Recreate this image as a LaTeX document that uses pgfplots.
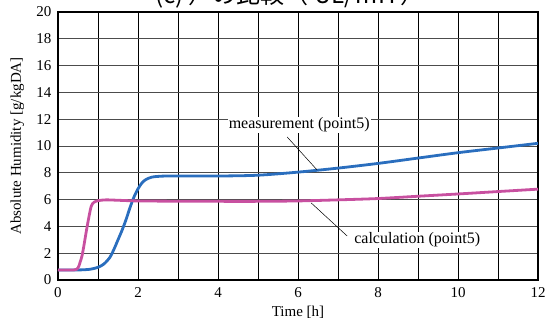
\documentclass[border=0pt]{standalone}
\usepackage{pgfplots}
\pgfplotsset{compat=1.18}
\usepackage{fontspec}
\setmainfont{Liberation Serif}
\newfontfamily\cjk{Noto Sans CJK JP}
\definecolor{meas}{HTML}{2A6EBE}
\definecolor{calc}{HTML}{C850A0}
\begin{document}
\begin{tikzpicture}[x=1pt,y=1pt]
\clip (-58,-43) rectangle (493,280);
\useasboundingbox (-58,-43) rectangle (493,280);
\node[anchor=base,font=\cjk\fontsize{24}{26}\selectfont] at (232,276) {(c) ）の比較（ UL/㎥H ）};
\begin{axis}[
  at={(0,0)}, anchor=south west,
  scale only axis, width=480pt, height=268pt,
  xmin=0, xmax=12, ymin=0, ymax=20,
  xtick={0,2,...,12}, minor xtick={1,3,...,11},
  ytick={0,2,...,20},
  grid=both,
  major grid style={black, line width=0.6pt},
  minor grid style={black, line width=0.6pt},
  y grid style={black!70, line width=0.6pt},
  axis line style={black, line width=1.4pt},
  tick style={draw=none},
  major tick length=0pt, minor tick length=0pt,
  ticklabel style={font=\fontsize{15}{16}\selectfont},
  /pgf/number format/assume math mode=true,
  xticklabel style={yshift=-4pt},
  yticklabel style={xshift=-3pt},
  xlabel={Time [h]},
  ylabel={Absolute Humidity [g/kgDA]},
  label style={font=\fontsize{15}{16}\selectfont},
  xlabel style={at={(axis description cs:0.5,-0.119)}, anchor=center},
  ylabel style={at={(axis description cs:-0.085,0.5)}, anchor=center},
  clip=false,
]
\addplot[meas, line width=2.8pt, smooth, tension=0.5] coordinates {
(0,0.75)(0.5,0.75)(0.8,0.8)(1.0,0.95)(1.15,1.2)(1.3,1.7)(1.4,2.3)(1.5,3.0)(1.6,3.7)(1.7,4.5)(1.8,5.4)(1.9,6.2)(2.0,6.8)(2.1,7.25)(2.2,7.5)(2.35,7.68)(2.6,7.75)(3,7.76)(4,7.76)(5,7.82)(6,8.05)(7,8.35)(8,8.7)(9,9.1)(10,9.5)(11,9.85)(12,10.2)
};
\addplot[calc, line width=2.8pt, smooth, tension=0.5] coordinates {
(0,0.75)(0.4,0.75)(0.5,0.9)(0.55,1.3)(0.6,1.8)(0.65,2.6)(0.7,3.5)(0.76,4.5)(0.83,5.5)(0.9,5.8)(1.0,5.92)(1.2,5.98)(1.5,5.95)(2,5.9)(3,5.88)(4,5.87)(5,5.87)(6,5.9)(7,5.98)(8,6.08)(9,6.25)(10,6.42)(11,6.6)(12,6.78)
};
\draw[black, line width=0.5pt] (axis cs:5.73,10.67) -- (axis cs:6.48,8.2);
\draw[black, line width=0.5pt] (axis cs:6.33,5.75) -- (axis cs:7.23,3.28);
\node[font=\fontsize{16}{17}\selectfont, fill=white, inner sep=1pt] at (axis cs:6.03,11.57) {measurement (point5)};
\node[font=\fontsize{16}{17}\selectfont, fill=white, inner sep=1pt] at (axis cs:8.98,2.99) {calculation (point5)};
\end{axis}
\end{tikzpicture}
\end{document}
